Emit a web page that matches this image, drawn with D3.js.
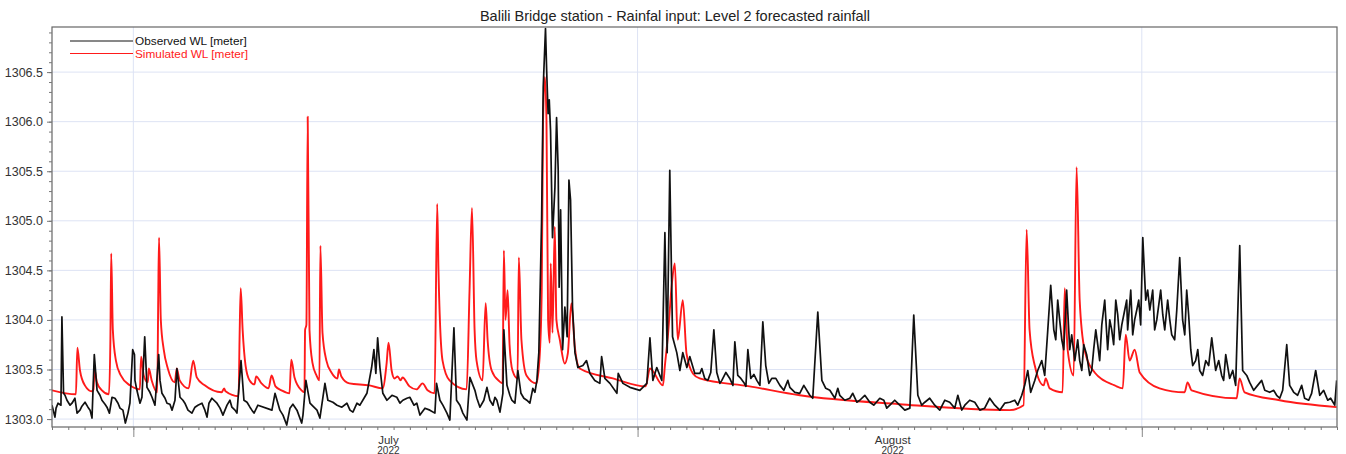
<!DOCTYPE html>
<html>
<head>
<meta charset="utf-8">
<script src="https://cdn.jsdelivr.net/npm/d3@7/dist/d3.min.js"></script>
<style>
  html, body { margin: 0; padding: 0; background: #fff; }
  svg { display: block; font-family: "Liberation Sans", Arial, sans-serif; }
</style>
</head>
<body>
<svg id="chart" width="1346" height="454"></svg>
<script>
// Water level at Balili Bridge, 26 June – 12 September 2022.
// Times are in days counted from 2022-06-26 00:00, levels in metres.
const startDate = new Date(2022, 5, 26);
const endDate = new Date(2022, 8, 13);

const titleText = "Balili Bridge station - Rainfal input: Level 2 forecasted rainfall";
const seriesNames = ["Observed WL [meter]", "Simulated WL [meter]"];
const monthLabels = ["July", "August"];
const yearLabel = "2022";
const yTicks = [1303.0, 1303.5, 1304.0, 1304.5, 1305.0, 1305.5, 1306.0, 1306.5];

// Observed gauge readings (peaks and daily swings)
const obsDays = [
  0.00, 0.18, 0.37, 0.55, 0.61, 0.71, 0.92, 1.23, 1.54, 1.84, 2.21, 2.46, 2.60, 2.77, 3.07, 3.38, 3.53, 3.69, 4.06, 4.36,
  4.51, 4.67, 4.79, 4.96, 5.07, 5.22, 5.41, 5.53, 5.70, 5.84, 6.15, 6.33, 6.56, 6.76, 7.07, 7.38, 7.68, 7.87, 8.17, 8.60,
  8.79, 9.22, 9.53, 9.65, 10.14, 10.51, 10.76, 11.06, 11.37, 11.62, 11.80, 12.17, 12.42, 12.66, 13.52, 13.71, 14.01, 14.43, 14.63, 15.06,
  15.35, 15.61, 15.86, 16.29, 16.47, 16.78, 16.96, 17.52, 18.13, 18.50, 18.93, 19.36, 19.65, 19.79, 19.91, 20.02, 20.16, 20.34, 20.59, 21.20,
  21.57, 22.00, 22.43, 22.62, 23.23, 23.54, 23.64, 23.85, 24.28, 24.46, 24.71, 24.87, 25.26, 25.51, 25.69, 26.00, 26.31, 26.74, 26.92, 27.23,
  27.54, 27.72, 27.78, 27.97, 28.27, 28.46, 28.64, 28.83, 29.19, 29.38, 29.56, 29.81, 29.93, 30.10, 30.20, 30.34, 30.41, 30.50, 30.57, 30.65,
  30.77, 30.92, 31.02, 31.12, 31.18, 31.27, 31.39, 31.53, 31.67, 31.78, 31.88, 32.00, 32.15, 32.33, 32.64, 32.86, 33.07, 33.37, 33.68, 33.79,
  33.99, 34.30, 34.73, 34.81, 35.10, 35.53, 36.14, 36.57, 36.76, 36.94, 37.18, 37.49, 37.68, 37.82, 37.98, 38.15, 38.41, 38.60, 38.78, 39.03,
  39.21, 39.52, 39.83, 40.13, 40.69, 40.87, 41.18, 41.67, 41.98, 42.16, 42.53, 42.78, 42.96, 43.33, 43.70, 43.88, 44.25, 44.75, 45.36, 45.97,
  46.59, 47.08, 47.33, 47.82, 48.43, 49.05, 49.66, 50.28, 50.89, 51.51, 52.12, 52.74, 52.98, 53.23, 53.66, 54.27, 54.89, 55.50, 56.12, 56.73,
  57.34, 57.96, 58.57, 59.19, 59.62, 59.99, 60.42, 60.85, 61.22, 61.40, 61.59, 61.83, 62.08, 62.38, 62.57, 62.88, 63.06, 63.31, 63.61, 63.92,
  64.17, 64.41, 64.72, 64.90, 65.15, 65.40, 65.64, 65.95, 66.13, 66.32, 66.56, 66.81, 67.06, 67.24, 67.49, 67.67, 67.92, 68.16, 68.41, 68.72,
  69.02, 69.33, 69.51, 69.76, 70.01, 70.31, 70.56, 70.93, 71.30, 71.54, 71.91, 72.16, 72.40, 72.77, 73.02, 73.20, 73.63, 74.12, 74.56, 74.86,
  75.29, 75.66, 75.91, 76.09, 76.58, 77.01, 77.44, 77.69, 77.94, 78.43, 78.86, 78.98
];
const obsLevel = [
  1303.14, 1303.02, 1303.16, 1303.14, 1304.03, 1303.26, 1303.19, 1303.16, 1303.06, 1303.13, 1303.12, 1303.01, 1303.65, 1303.29, 1303.19, 1303.12, 1303.06, 1303.22, 1303.16, 1303.09,
  1302.96, 1303.06, 1303.16, 1303.70, 1303.65, 1303.29, 1303.16, 1303.22, 1303.83, 1303.32, 1303.22, 1303.14, 1303.65, 1303.26, 1303.16, 1303.09, 1303.51, 1303.22, 1303.16, 1303.06,
  1303.12, 1303.16, 1303.02, 1303.16, 1303.16, 1303.04, 1303.14, 1303.12, 1303.06, 1303.59, 1303.19, 1303.12, 1303.06, 1303.14, 1303.09, 1303.26, 1303.09, 1302.94, 1303.11, 1303.09,
  1302.96, 1303.39, 1303.16, 1303.09, 1303.01, 1303.36, 1303.19, 1303.14, 1303.16, 1303.07, 1303.14, 1303.26, 1303.52, 1303.70, 1303.46, 1303.82, 1303.52, 1303.26, 1303.19, 1303.22,
  1303.19, 1303.22, 1303.16, 1303.04, 1303.09, 1303.06, 1303.36, 1303.19, 1303.06, 1302.99, 1303.92, 1303.19, 1303.06, 1302.99, 1303.42, 1303.29, 1303.12, 1303.32, 1303.19, 1303.22,
  1303.07, 1303.26, 1303.90, 1303.34, 1303.19, 1303.16, 1303.49, 1303.26, 1303.19, 1303.16, 1303.31, 1303.39, 1303.67, 1305.01, 1306.35, 1306.94, 1306.52, 1306.08, 1306.22, 1305.91,
  1304.83, 1305.34, 1306.04, 1305.51, 1304.33, 1305.11, 1303.70, 1304.13, 1303.83, 1305.41, 1305.21, 1304.13, 1303.67, 1303.52, 1303.54, 1303.59, 1303.46, 1303.39, 1303.36, 1303.63,
  1303.41, 1303.36, 1303.26, 1303.46, 1303.36, 1303.32, 1303.29, 1303.36, 1303.82, 1303.39, 1303.52, 1303.39, 1304.88, 1303.67, 1305.51, 1303.83, 1303.67, 1303.49, 1303.67, 1303.52,
  1303.63, 1303.46, 1303.46, 1303.41, 1303.90, 1303.47, 1303.39, 1303.41, 1303.78, 1303.44, 1303.37, 1303.70, 1303.41, 1303.39, 1303.98, 1303.54, 1303.41, 1303.34, 1303.32, 1303.26,
  1303.24, 1304.08, 1303.39, 1303.29, 1303.24, 1303.21, 1303.19, 1303.17, 1303.21, 1303.14, 1303.14, 1303.11, 1304.05, 1303.24, 1303.17, 1303.14, 1303.19, 1303.11, 1303.14, 1303.17,
  1303.11, 1303.14, 1303.16, 1303.19, 1303.24, 1303.49, 1303.39, 1303.59, 1303.90, 1304.35, 1303.90, 1304.20, 1303.80, 1304.30, 1303.70, 1303.59, 1303.80, 1303.49, 1303.65, 1303.49,
  1303.90, 1303.59, 1304.20, 1303.70, 1303.90, 1304.20, 1303.80, 1304.10, 1303.90, 1304.30, 1304.00, 1304.20, 1304.83, 1304.20, 1304.10, 1304.30, 1304.00, 1304.30, 1303.90, 1304.00,
  1303.80, 1304.63, 1304.00, 1304.30, 1303.70, 1303.59, 1303.49, 1303.59, 1303.82, 1303.49, 1303.44, 1303.65, 1303.41, 1303.34, 1304.75, 1303.49, 1303.37, 1303.34, 1303.29, 1303.27,
  1303.24, 1303.29, 1303.75, 1303.34, 1303.24, 1303.21, 1303.26, 1303.49, 1303.24, 1303.19, 1303.14, 1303.39
];

// Observed gauge readings between the peaks (short-term fluctuation)
const obsDaysFill = [
  0.25, 0.80, 1.11, 1.41, 1.72, 2.03, 2.34, 2.95, 3.26, 3.87, 4.18, 5.10, 6.02, 6.64, 6.95, 7.25, 7.56, 8.05, 8.36, 8.97,
  9.40, 9.83, 10.33, 10.94, 11.25, 11.99, 12.29, 14.20, 14.81, 15.43, 16.04, 17.27, 17.82, 18.32, 18.75, 19.18, 20.90, 21.39, 21.82, 22.25,
  22.93, 24.03, 25.08, 26.12, 26.55, 27.11, 27.35, 28.15, 29.01, 29.69,
  39.95, 40.32, 40.50, 41.06, 41.43, 41.86, 42.35, 42.66, 43.15, 43.52, 44.07, 44.50, 44.99, 45.24, 45.67, 46.22, 46.77, 47.57, 48.13, 48.31,
  48.74, 49.23, 49.48, 49.97, 50.52, 51.14, 51.32, 51.81, 52.43, 53.47, 53.96, 54.58, 55.19, 55.69, 55.93, 56.42, 57.04, 57.65, 58.27, 58.88,
  59.37, 59.80, 60.17, 60.60, 61.03, 61.71, 61.95, 62.20, 62.69, 63.18, 63.43, 63.80, 64.04, 64.29, 64.54, 65.03, 65.27, 65.52, 65.77, 66.07,
  66.44, 66.69, 66.93, 67.36, 67.79, 68.04, 68.29, 68.59, 68.84, 69.15, 69.64, 69.88, 70.13, 70.44, 70.74, 71.11, 71.73, 72.03, 72.59, 73.45,
  73.88, 74.37, 75.11, 75.48, 76.34, 76.83, 77.26, 78.18, 78.61
];
const obsLevelFill = [
  1303.11, 1303.24, 1303.14, 1303.21, 1303.09, 1303.17, 1303.09, 1303.24, 1303.15, 1303.21, 1303.11, 1303.39, 1303.27, 1303.39, 1303.21, 1303.15, 1303.19, 1303.19, 1303.09, 1303.14,
  1303.09, 1303.21, 1303.11, 1303.19, 1303.09, 1303.17, 1303.09, 1303.04, 1303.15, 1303.04, 1303.13, 1303.17, 1303.12, 1303.09, 1303.16, 1303.21, 1303.24, 1303.16, 1303.21, 1303.14,
  1303.11, 1303.14, 1303.14, 1303.21, 1303.19, 1303.14, 1303.19, 1303.24, 1303.21, 1303.27,
  1303.51, 1303.39, 1303.47, 1303.36, 1303.47, 1303.34, 1303.41, 1303.33, 1303.45, 1303.34, 1303.36, 1303.41, 1303.29, 1303.39, 1303.27, 1303.34, 1303.21, 1303.31, 1303.21, 1303.31,
  1303.19, 1303.26, 1303.17, 1303.24, 1303.14, 1303.19, 1303.11, 1303.19, 1303.09, 1303.14, 1303.21, 1303.09, 1303.17, 1303.24, 1303.09, 1303.19, 1303.09, 1303.21, 1303.09, 1303.17,
  1303.14, 1303.34, 1303.27, 1303.49, 1303.44, 1303.80, 1304.00, 1303.70, 1303.85, 1303.59, 1303.75, 1303.44, 1303.70, 1303.75, 1303.95, 1304.00, 1303.75, 1304.05, 1303.95, 1304.20,
  1303.85, 1304.10, 1303.95, 1304.30, 1303.90, 1304.15, 1304.05, 1304.20, 1303.85, 1304.10, 1303.85, 1304.05, 1303.54, 1303.70, 1303.44, 1303.54, 1303.59, 1303.39, 1303.49, 1303.44,
  1303.29, 1303.39, 1303.29, 1303.21, 1303.27, 1303.34, 1303.19, 1303.29, 1303.21
];

// Simulated water level
const simDays = [
  0.00, 1.47, 1.56, 1.72, 2.02, 2.45, 2.55, 2.61, 2.76, 3.07, 3.50, 3.59, 3.64, 3.74, 3.93, 4.23, 4.79, 5.40, 5.48, 5.64,
  5.89, 5.95, 6.13, 6.47, 6.53, 6.58, 6.69, 6.87, 7.12, 7.55, 7.67, 7.85, 8.40, 8.68, 8.90, 9.39, 10.43, 10.58, 10.67, 11.47,
  11.53, 11.60, 11.72, 11.90, 12.15, 12.45, 12.55, 12.88, 13.31, 13.50, 13.74, 14.11, 14.60, 14.71, 14.91, 15.34, 15.52, 15.56, 15.64, 15.72,
  15.83, 16.01, 16.26, 16.44, 16.50, 16.63, 16.87, 17.18, 17.55, 17.64, 17.79, 18.28, 19.51, 20.33, 20.57, 20.69, 20.88, 21.06, 21.25, 21.43,
  21.55, 21.98, 22.41, 22.78, 23.09, 23.52, 23.68, 23.76, 24.01, 24.44, 25.49, 25.67, 25.82, 25.98, 26.10, 26.47, 26.66, 26.78, 27.03, 27.51,
  27.70, 27.78, 27.88, 28.01, 28.13, 28.31, 28.62, 28.70, 28.86, 29.17, 29.78, 29.99, 30.11, 30.19, 30.30, 30.40, 30.50, 30.60, 30.66, 30.77,
  30.91, 31.01, 31.22, 31.52, 31.71, 31.93, 32.14, 32.44, 34.48, 36.50, 36.76, 37.56, 37.68, 37.86, 38.11, 38.29, 38.47, 38.78, 39.01, 39.40,
  39.82, 42.89, 45.97, 52.11, 58.87, 59.73, 59.92, 60.10, 60.42, 60.97, 61.09, 61.34, 62.13, 62.26, 62.44, 62.81, 62.99, 63.18, 63.48, 64.10,
  65.33, 65.83, 66.01, 66.25, 66.56, 66.87, 68.09, 69.63, 69.81, 70.06, 72.83, 73.01, 73.32, 75.48, 78.98
];
const simLevel = [
  1303.29, 1303.25, 1303.72, 1303.49, 1303.34, 1303.28, 1303.30, 1303.50, 1303.37, 1303.29, 1303.25, 1303.80, 1304.67, 1303.90, 1303.59, 1303.44, 1303.34, 1303.30, 1303.63, 1303.44,
  1303.37, 1303.51, 1303.39, 1303.27, 1304.20, 1304.83, 1304.00, 1303.70, 1303.51, 1303.37, 1303.51, 1303.39, 1303.31, 1303.59, 1303.42, 1303.34, 1303.27, 1303.31, 1303.28, 1303.23,
  1303.80, 1304.32, 1303.90, 1303.54, 1303.39, 1303.35, 1303.43, 1303.36, 1303.31, 1303.44, 1303.33, 1303.29, 1303.26, 1303.60, 1303.42, 1303.29, 1303.27, 1303.90, 1303.95, 1306.05,
  1303.90, 1303.57, 1303.44, 1303.39, 1304.75, 1303.87, 1303.59, 1303.47, 1303.41, 1303.50, 1303.43, 1303.36, 1303.34, 1303.31, 1303.56, 1303.77, 1303.49, 1303.41, 1303.43, 1303.39,
  1303.42, 1303.33, 1303.30, 1303.36, 1303.29, 1303.26, 1305.17, 1304.50, 1303.59, 1303.39, 1303.30, 1304.30, 1305.13, 1303.90, 1303.59, 1303.39, 1304.17, 1303.80, 1303.49, 1303.38,
  1303.36, 1304.70, 1304.00, 1304.30, 1303.75, 1303.49, 1303.41, 1304.63, 1303.80, 1303.44, 1303.36, 1303.66, 1304.33, 1306.01, 1306.45, 1306.01, 1304.00, 1303.77, 1304.57, 1303.87,
  1304.94, 1304.00, 1303.80, 1303.56, 1303.66, 1304.17, 1303.73, 1303.51, 1303.41, 1303.33, 1303.51, 1303.34, 1303.54, 1303.83, 1304.37, 1304.57, 1303.80, 1304.20, 1303.66, 1303.46,
  1303.41, 1303.33, 1303.24, 1303.15, 1303.09, 1303.14, 1304.91, 1303.90, 1303.54, 1303.34, 1303.41, 1303.31, 1303.27, 1304.32, 1303.70, 1303.44, 1305.54, 1304.20, 1303.70, 1303.47,
  1303.34, 1303.31, 1303.85, 1303.59, 1303.70, 1303.47, 1303.31, 1303.27, 1303.37, 1303.29, 1303.21, 1303.41, 1303.27, 1303.19, 1303.12
];

const toDate = d => new Date(startDate.getTime() + d * 864e5);
const observed = obsDays.map((d, i) => ({ date: toDate(d), value: obsLevel[i] }))
  .concat(obsDaysFill.map((d, i) => ({ date: toDate(d), value: obsLevelFill[i] })))
  .sort((a, b) => a.date - b.date);
const simulated = simDays.map((d, i) => ({ date: toDate(d), value: simLevel[i] }));

const svg = d3.select("#chart");
const margin = { left: 52, right: 9, top: 27, bottom: 27 };
const W = 1346, H = 454;
const x = d3.scaleTime().domain([startDate, endDate]).range([margin.left, W - margin.right]);
const y = d3.scaleLinear().domain([1302.92, 1306.955]).range([H - margin.bottom, margin.top]);

// Grid
const grid = svg.append("g");
grid.selectAll("line.h").data(yTicks).join("line")
  .attr("x1", margin.left).attr("x2", W - margin.right)
  .attr("y1", d => y(d)).attr("y2", d => y(d))
  .attr("stroke", "#dde3f4").attr("stroke-width", 1);
const monthStarts = d3.timeMonth.range(d3.timeMonth.ceil(startDate), endDate);
grid.selectAll("line.v").data(monthStarts).join("line")
  .attr("x1", d => x(d)).attr("x2", d => x(d))
  .attr("y1", margin.top).attr("y2", H - margin.bottom)
  .attr("stroke", "#dde3f4").attr("stroke-width", 1);

// Series
const clipId = "plotclip";
svg.append("clipPath").attr("id", clipId).append("rect")
  .attr("x", margin.left).attr("y", margin.top)
  .attr("width", W - margin.left - margin.right).attr("height", H - margin.top - margin.bottom);
const plot = svg.append("g").attr("clip-path", `url(#${clipId})`);
const simLine = d3.line().x(d => x(d.date)).y(d => y(d.value)).curve(d3.curveMonotoneX);
const obsLine = d3.line().x(d => x(d.date)).y(d => y(d.value));
plot.append("path").datum(simulated).attr("d", simLine)
  .attr("fill", "none").attr("stroke", "#ff1a1a").attr("stroke-width", 1.9).attr("stroke-linejoin", "round");
plot.append("path").datum(observed).attr("d", obsLine)
  .attr("fill", "none").attr("stroke", "#111").attr("stroke-width", 1.7).attr("stroke-linejoin", "round");

// Frame
svg.append("rect")
  .attr("x", margin.left).attr("y", margin.top)
  .attr("width", W - margin.left - margin.right).attr("height", H - margin.top - margin.bottom)
  .attr("fill", "none").attr("stroke", "#666").attr("stroke-width", 1.2);

// Y axis with minor ticks
const yAxis = svg.append("g").attr("transform", `translate(${margin.left},0)`);
yAxis.call(d3.axisLeft(y).tickValues(d3.range(1303.0, 1306.95, 0.1)).tickSize(3).tickFormat(""));
yAxis.call(g => g.select(".domain").remove());
yAxis.selectAll(".tick line").attr("stroke", "#777");
const yLab = svg.append("g").attr("transform", `translate(${margin.left},0)`);
yLab.call(d3.axisLeft(y).tickValues(yTicks).tickSize(5).tickPadding(4).tickFormat(d3.format(".1f")));
yLab.select(".domain").remove();
yLab.selectAll(".tick line").attr("stroke", "#777");
yLab.selectAll("text").attr("font-size", 12.5).attr("fill", "#333")
  .attr("font-family", "'Liberation Sans', Arial, sans-serif");

// X axis: daily minor ticks, monthly major ticks
const xAxis = svg.append("g").attr("transform", `translate(0,${H - margin.bottom})`);
xAxis.call(d3.axisBottom(x).ticks(d3.timeDay.every(1)).tickSize(3).tickFormat(""));
xAxis.select(".domain").remove();
xAxis.selectAll(".tick line").attr("stroke", "#777");
const xMaj = svg.append("g").attr("transform", `translate(0,${H - margin.bottom})`);
xMaj.call(d3.axisBottom(x).tickValues(monthStarts).tickSize(10).tickFormat(""));
xMaj.select(".domain").remove();
xMaj.selectAll(".tick line").attr("stroke", "#888");

const monthMid = monthLabels.map((m, i) => {
  const s = monthStarts[i];
  const e = d3.timeMonth.offset(s, 1);
  return { name: m, date: new Date((s.getTime() + e.getTime()) / 2) };
});
const ml = svg.append("g").attr("fill", "#333").attr("text-anchor", "middle");
ml.selectAll("text.m").data(monthMid).join("text")
  .attr("font-size", 11.5)
  .attr("x", d => x(d.date) + 3).attr("y", 444).text(d => d.name);
ml.selectAll("text.yr").data(monthMid).join("text")
  .attr("font-size", 10)
  .attr("x", d => x(d.date) + 3).attr("y", 453.5).text(yearLabel);

// Title
svg.append("text").attr("x", 675).attr("y", 21).attr("text-anchor", "middle")
  .attr("font-size", 14.5).attr("fill", "#222").text(titleText);

// Legend
const legend = svg.append("g");
const colors = ["#111", "#ff1a1a"];
seriesNames.forEach((name, i) => {
  const ly = 41 + i * 12.5;
  legend.append("line").attr("x1", 70).attr("x2", 133).attr("y1", ly).attr("y2", ly)
    .attr("stroke", colors[i]).attr("stroke-width", 1);
  legend.append("text").attr("x", 135).attr("y", ly + 4).attr("font-size", 11.8)
    .attr("fill", colors[i]).text(name);
});
</script>
</body>
</html>
